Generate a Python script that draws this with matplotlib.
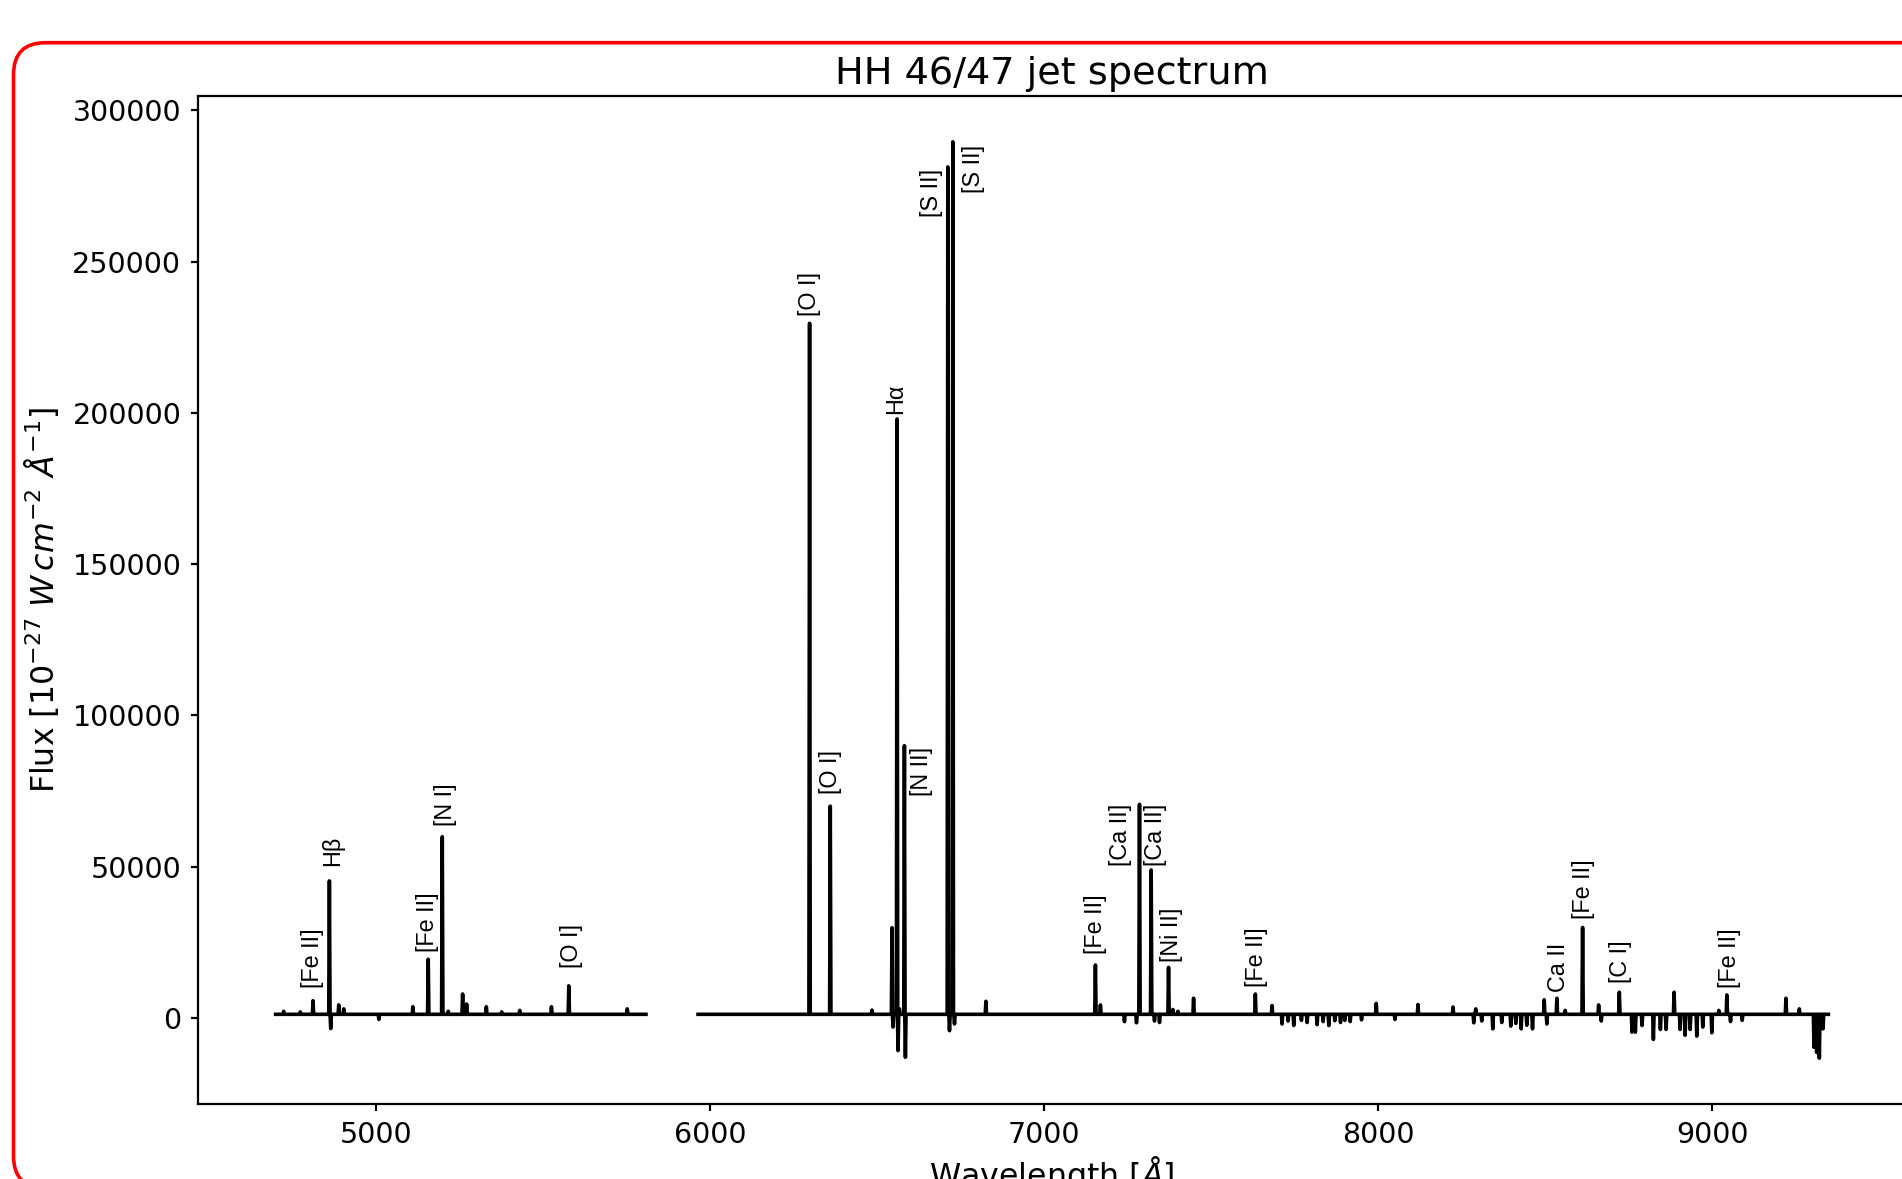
#!/usr/bin/env python
import numpy as np
import matplotlib
matplotlib.use("Agg")
import matplotlib.pyplot as plt
from matplotlib.patches import FancyBboxPatch
from matplotlib.transforms import IdentityTransform

# continuum level and the two observed ranges (gap between them)
baseline = 1200
blue_range = [4698, 5807]
red_range = [5963, 9348]

# emission lines / residual dips: wavelength [A], flux
blue_wl = [4722, 4772, 4810, 4859, 4863, 4887, 4902, 5007, 5109, 5155,
           5197, 5215, 5258, 5270, 5329, 5375, 5429, 5524, 5576, 5751]
blue_flux = [2200, 2000, 5700, 45300, -3500, 4300, 3000, -500, 3700, 19400,
             59900, 2200, 7900, 4600, 3700, 2000, 2500, 3700, 10600, 3000]

red_wl = [6297, 6359, 6484, 6544, 6547, 6559, 6562, 6566, 6581, 6584,
          6711, 6716, 6726, 6731, 6825, 7153, 7168, 7240, 7276, 7285,
          7320, 7330, 7345, 7372, 7385, 7400, 7447, 7632, 7682, 7712,
          7730, 7747, 7770, 7787, 7817, 7835, 7852, 7870, 7887, 7900,
          7916, 7950, 7994, 8050, 8119, 8224, 8286, 8292, 8310, 8343,
          8370, 8397, 8412, 8428, 8445, 8462, 8497, 8505, 8535, 8560,
          8612, 8660, 8668, 8722, 8760, 8770, 8790, 8824, 8845, 8862,
          8886, 8904, 8919, 8934, 8954, 8972, 8999, 9020, 9044, 9055,
          9090, 9221, 9261, 9305, 9313, 9321, 9332]
red_flux = [229600, 70000, 2600, 29800, -3000, 198000, -10800, 3000, 90000, -13000,
            281300, -4200, 289600, -2000, 5500, 17500, 4300, -1200, -1600, 70600,
            48900, -1000, -1500, 16700, 2800, 2200, 6500, 7900, 4100, -2000,
            -1000, -2500, -800, -1500, -2200, -1200, -2500, -900, -1500, -800,
            -1200, -600, 4800, -500, 4400, 3600, -1600, 3000, -1000, -3600,
            -1500, -2700, -1800, -3600, -2400, -3600, 6000, -2000, 6500, 2500,
            29900, 4300, -1000, 8500, -4700, -4700, -2500, -7100, -3800, -3800,
            8500, -3800, -5700, -3800, -6000, -3000, -4900, 2500, 7600, -1200,
            -800, 6500, 3000, -9700, -11400, -13300, -3600]

# line identifications and where their labels sit (data coords)
labels = ['[Fe II]', 'H\u03b2', '[Fe II]', '[N I]', '[O I]', '[O I]', '[O I]',
          'H\u03b1', '[N II]', '[S II]', '[S II]', '[Fe II]', '[Ca II]', '[Ca II]',
          '[Ni II]', '[Fe II]', 'Ca II', '[Fe II]', '[C I]', '[Fe II]']
label_x = [4807, 4870, 5152, 5207, 5583, 6297, 6359, 6554, 6632, 6662,
           6787, 7153, 7228, 7334, 7380, 7635, 8540, 8615, 8725, 9052]
label_y = [9800, 50200, 21700, 63400, 16400, 232100, 74000, 199700, 73300, 264700,
           272600, 21100, 50200, 50200, 18600, 10100, 8700, 32600, 11400, 9800]


def build_segment(rng, wl, flux, hw=2.0):
    xs = [rng[0]]
    ys = [baseline]
    for w, f in zip(wl, flux):
        xs += [w - hw, w, w + hw]
        ys += [baseline, f, baseline]
    xs.append(rng[1])
    ys.append(baseline)
    return xs, ys


bx, by = build_segment(blue_range, blue_wl, blue_flux)
rx, ry = build_segment(red_range, red_wl, red_flux)
wave = np.array(bx + [np.nan] + rx)
flux = np.array(by + [np.nan] + ry)

fig = plt.figure(figsize=(19.02, 11.79), dpi=100)
ax = fig.add_axes([198/1902, 75/1179, 1708/1902, 1008/1179])

ax.plot(wave, flux, color='black', lw=2.6)

for lab, x, y in zip(labels, label_x, label_y):
    ax.text(x, y, lab, rotation=90, ha='center', va='bottom',
            fontsize=16.8, family=['Liberation Sans', 'DejaVu Sans'])

ax.set_title('HH 46/47 jet spectrum', fontsize=27.5, pad=9)
ax.set_xlabel(r'Wavelength [$\AA$]', fontsize=22.8)
ax.set_ylabel(r'Flux [10$^{-27}$ $W\,cm^{-2}$ $\AA^{-1}$]', fontsize=22.8,
              labelpad=8)
ax.tick_params(labelsize=20.5, length=5, width=1.6, pad=7)
for s in ax.spines.values():
    s.set_linewidth(1.6)

# red rounded frame of the screenshot
frame = FancyBboxPatch((13.5, 1179 - 1188), 1990, 1188 - 42.7,
                       boxstyle='round,pad=0,rounding_size=32',
                       transform=IdentityTransform(), fill=False,
                       ec='red', lw=2.6, clip_on=False)
fig.add_artist(frame)

fig.savefig('out.png', dpi=100)
